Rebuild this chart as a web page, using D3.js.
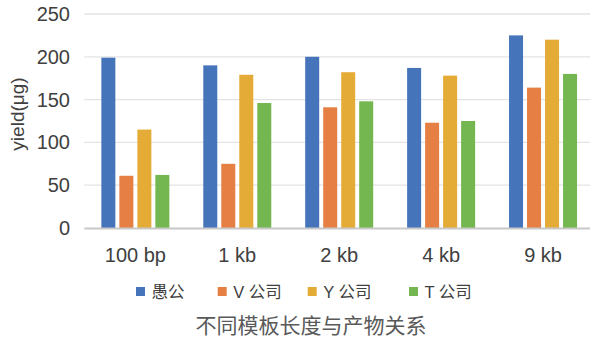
<!DOCTYPE html>
<html><head><meta charset="utf-8">
<script src="https://cdn.jsdelivr.net/npm/d3@7"></script>
<style>
html,body{margin:0;padding:0;background:#fff;}
svg{display:block;font-family:"Liberation Sans",Arial,"Noto Sans CJK SC",sans-serif;}
</style></head>
<body>
<svg id="chart" width="590" height="337"></svg>
<script>
const categories = ["100 bp", "1 kb", "2 kb", "4 kb", "9 kb"];
const seriesNames = ["愚公", "V 公司", "Y 公司", "T 公司"];
const yugong = [199, 190, 200, 187, 225];
const vCompany = [61, 75, 141, 123, 164];
const yCompany = [115, 179, 182, 178, 220];
const tCompany = [62, 146, 148, 125, 180];
const seriesValues = [yugong, vCompany, yCompany, tCompany];
const colors = ["#4674BA", "#E67F43", "#E5AB37", "#74B751"];
const yTicks = [0, 50, 100, 150, 200, 250];
const yTitle = "yield(μg)";
const xTitle = "不同模板长度与产物关系";

const svg = d3.select("#chart");
const plot = {left: 84.4, right: 594, top: 14, bottom: 228};

const x = d3.scaleBand().domain(categories).range([plot.left, plot.right]).padding(0);
const xi = d3.scaleBand().domain(seriesNames).range([-34, 34]).paddingInner(4/18).paddingOuter(0);
const y = d3.scaleLinear().domain([0, 250]).range([plot.bottom, plot.top]);

// gridlines
svg.append("g").selectAll("line").data(yTicks.filter(d => d > 0)).join("line")
  .attr("x1", plot.left).attr("x2", 590)
  .attr("y1", d => y(d)).attr("y2", d => y(d))
  .attr("stroke", "#e3e3e3").attr("stroke-width", 1.3);

// y axis labels
const yAxis = d3.axisLeft(y).tickValues(yTicks).tickSize(0).tickPadding(0).tickFormat(d3.format("d"));
const gy = svg.append("g").attr("transform", `translate(70,0)`).call(yAxis);
gy.select(".domain").remove();
gy.selectAll("text").attr("font-size", 20).attr("fill", "#404040")
  .attr("font-family", '"Liberation Sans",Arial,sans-serif');

// bars
const groups = svg.append("g").selectAll("g").data(categories).join("g")
  .attr("transform", d => `translate(${x(d) + x.bandwidth()/2},0)`);
groups.selectAll("rect").data((c, i) => seriesNames.map((s, j) => ({s, v: seriesValues[j][i], j})))
  .join("rect")
  .attr("x", d => xi(d.s)).attr("width", xi.bandwidth())
  .attr("y", d => y(d.v)).attr("height", d => y(0) - y(d.v))
  .attr("fill", d => colors[d.j]);

// baseline
svg.append("line").attr("x1", plot.left).attr("x2", 590)
  .attr("y1", y(0) + 0.5).attr("y2", y(0) + 0.5)
  .attr("stroke", "#c8c8c8").attr("stroke-width", 2);

// x axis labels
const xAxis = d3.axisBottom(x).tickSize(0).tickPadding(0);
const gx = svg.append("g").attr("transform", `translate(0,262)`).call(xAxis);
gx.select(".domain").remove();
gx.selectAll("text").attr("font-size", 20).attr("fill", "#404040").attr("dy", 0)
  .attr("font-family", '"Liberation Sans",Arial,sans-serif');

// y title
svg.append("text").attr("transform", "translate(24,114) rotate(-90)")
  .attr("text-anchor", "middle").attr("font-size", 19).attr("fill", "#404040")
  .text(yTitle);

// legend
const legendX = [136, 217.7, 307.7, 409];
const lg = svg.append("g").selectAll("g").data(seriesNames).join("g")
  .attr("transform", (d, i) => `translate(${legendX[i]},287)`);
lg.append("rect").attr("width", 9).attr("height", 9).attr("fill", (d, i) => colors[i]);
lg.append("text").attr("x", 15.5).attr("y", 10.5).attr("font-size", 16.5).attr("fill", "#404040")
  .text(d => d);

// x title
svg.append("text").attr("x", 311).attr("y", 333).attr("text-anchor", "middle")
  .attr("font-size", 21).attr("fill", "#595959").text(xTitle);
</script>
</body></html>
